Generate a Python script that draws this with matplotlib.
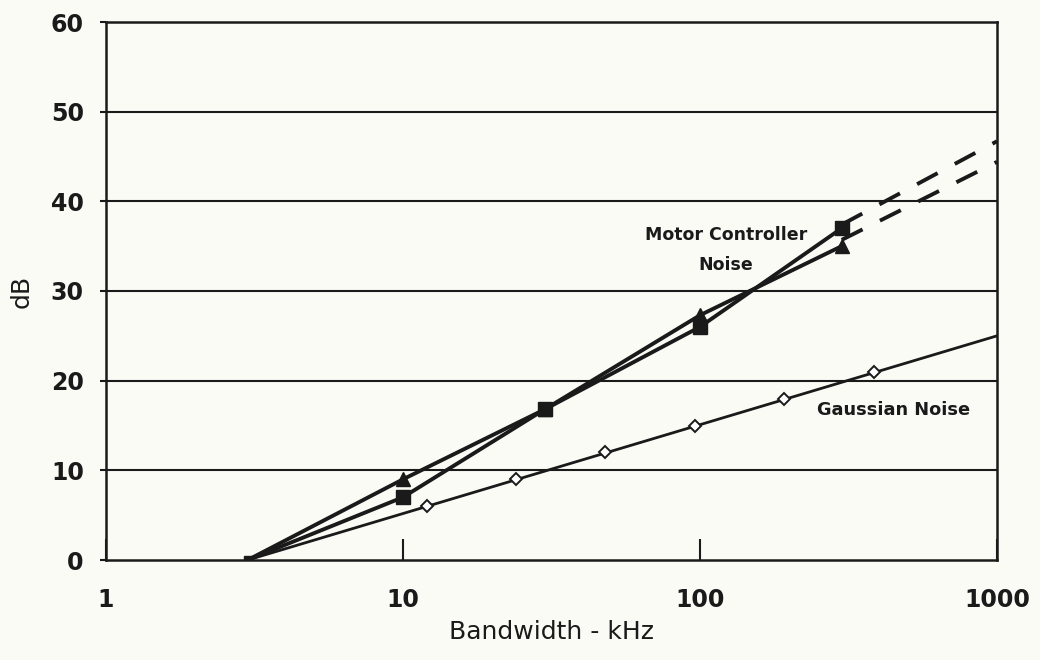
import matplotlib
matplotlib.use("Agg")
import matplotlib.pyplot as plt
from matplotlib.ticker import FixedLocator, NullLocator

# Data
bw_motor = [3, 10, 30, 100, 300]
motor_tri = [0, 9, 16.8, 27.3, 35]
motor_sq = [0, 7, 16.8, 26, 37]

bw_gauss = [3, 12, 24, 48, 96, 192, 384]
gauss = [0, 6, 9, 12, 15, 18, 21]
gauss_line_x = [3, 1000]
gauss_line_y = [0, 25]

extrap_x = [300, 1000]
extrap_sq = [37.4, 46.7]
extrap_tri = [35.7, 44.4]

xticks = [1, 10, 100, 1000]
xticklabels = ["1", "10", "100", "1000"]
yticks = [0, 10, 20, 30, 40, 50, 60]

bg = "#fbfbf6"
ink = "#1a1a1a"
fig = plt.figure(figsize=(10.4, 6.6), dpi=100, facecolor=bg)
ax = fig.add_axes([106/1040, 1 - 560/660, (997-106)/1040, (560-22)/660])
ax.set_facecolor(bg)

ax.set_xscale("log")
ax.set_xlim(1, 1000)
ax.set_ylim(0, 60)

for y in yticks[1:-1]:
    ax.axhline(y, color=ink, lw=1.5, zorder=1)

# Gaussian noise
ax.plot(gauss_line_x, gauss_line_y, color=ink, lw=2.0, zorder=3)
ax.plot(bw_gauss[1:], gauss[1:], ls="none", marker="D", ms=6.5, mfc="white",
        mec=ink, mew=1.4, zorder=4)

# Motor controller noise
ax.plot(bw_motor, motor_tri, color=ink, lw=2.8, zorder=4)
ax.plot(bw_motor[1:], motor_tri[1:], ls="none", marker="^", ms=10,
        mfc=ink, mec=ink, zorder=4)
ax.plot(bw_motor, motor_sq, color=ink, lw=2.8, zorder=5)
ax.plot(bw_motor[1:], motor_sq[1:], ls="none", marker="s", ms=10,
        mfc=ink, mec=ink, zorder=5)
ax.plot(bw_motor[:1], motor_sq[:1], ls="none", marker="s", ms=6,
        mfc=ink, mec=ink, zorder=5)

ax.plot(extrap_x, extrap_sq, color=ink, lw=2.8, ls=(0, (6, 5)), zorder=3)
ax.plot(extrap_x, extrap_tri, color=ink, lw=2.8, ls=(0, (6, 5)), zorder=3)

ax.text(10 ** ((726 - 106) / 297), (560 - 250) / 8.967, "Motor Controller\nNoise",
        ha="center", va="center", fontsize=12.5, fontweight="bold",
        family="DejaVu Sans", linespacing=1.8, color=ink)

ax.text(10 ** ((817 - 106) / 297), (560 - 410) / 8.967, "Gaussian Noise",
        ha="left", va="center", fontsize=12.8, fontweight="bold",
        family="DejaVu Sans", color=ink)

ax.xaxis.set_major_locator(FixedLocator(xticks))
ax.xaxis.set_minor_locator(NullLocator())
ax.set_xticklabels(xticklabels)
ax.set_yticks(yticks)

for lab in ax.get_xticklabels() + ax.get_yticklabels():
    lab.set_fontfamily("DejaVu Sans")
    lab.set_fontweight("bold")
    lab.set_fontsize(17)
    lab.set_color(ink)

ax.tick_params(axis="x", direction="in", length=15, width=1.5, pad=20,
               color=ink)
ax.tick_params(axis="y", direction="out", length=4, width=1.5, pad=12,
               color=ink)

for s in ax.spines.values():
    s.set_linewidth(1.8)
    s.set_color(ink)

ax.set_xlabel("Bandwidth - kHz", fontsize=18, family="DejaVu Sans",
              color=ink, labelpad=6)
ax.set_ylabel("dB", fontsize=18, family="DejaVu Sans", color=ink,
              labelpad=12)

fig.savefig("out.png", dpi=100, facecolor=bg)
